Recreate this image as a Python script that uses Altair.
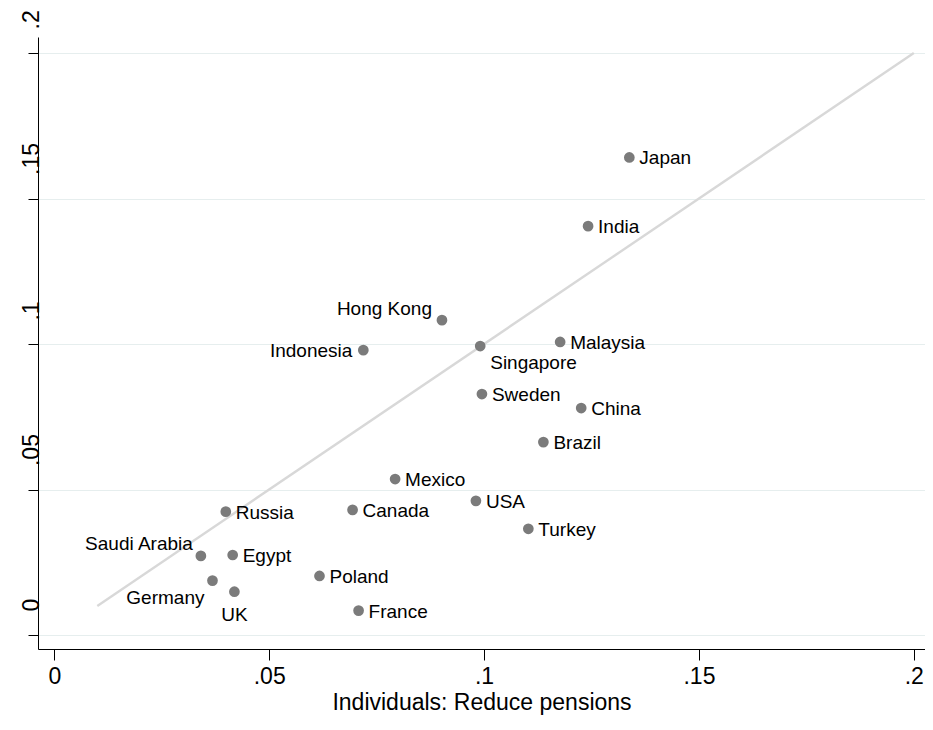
import altair as alt
import pandas as pd

# ---- data ----
countries = ["Japan", "India", "Hong Kong", "Indonesia", "Singapore", "Malaysia",
             "Sweden", "China", "Brazil", "Mexico", "USA", "Canada", "Russia",
             "Turkey", "Saudi Arabia", "Egypt", "Germany", "UK", "Poland", "France"]
reduce_pensions_individuals = [0.1338, 0.1242, 0.0902, 0.0719, 0.0991, 0.1177,
                               0.0995, 0.1226, 0.1138, 0.0793, 0.0981, 0.0694, 0.0399,
                               0.1103, 0.0341, 0.0415, 0.0368, 0.0419, 0.0617, 0.0708]
reduce_pensions_other = [0.1641, 0.1405, 0.1082, 0.0979, 0.0993, 0.1007,
                         0.0828, 0.0780, 0.0663, 0.0536, 0.0461, 0.0430, 0.0424,
                         0.0365, 0.0272, 0.0275, 0.0187, 0.0149, 0.0203, 0.0084]
diag_x = [0.01, 0.2]
diag_y = [0.01, 0.2]
tick_values = [0, 0.05, 0.1, 0.15, 0.2]
x_title = "Individuals: Reduce pensions"

# ---- label placement (style, kept apart from the data) ----
# (align, dx, dy)
label_place = {
    "Singapore": ("left", 10, 17),
    "Hong Kong": ("right", -10, -11),
    "Indonesia": ("right", -11, 1),
    "Saudi Arabia": ("right", -8, -12),
    "Germany": ("right", -8, 17),
    "UK": ("center", 0, 23),
}
default_place = ("left", 10, 1)

FONT = "Liberation Sans"

df = pd.DataFrame({"country": countries, "x": reduce_pensions_individuals,
                   "y": reduce_pensions_other})
df["place"] = [str(label_place.get(c, default_place)) for c in countries]
diag = pd.DataFrame({"x": diag_x, "y": diag_y})

xs = alt.Scale(domain=[-0.0038, 0.2026], nice=False, zero=False)
ys = alt.Scale(domain=[-0.0048, 0.2055], nice=False, zero=False)
label_expr = "datum.value == 0 ? '0' : replace(format(datum.value, '.2~f'), '0.', '.')"


def X():
    return alt.X("x:Q", scale=xs, title=x_title,
                 axis=alt.Axis(values=tick_values, labelExpr=label_expr, grid=False,
                               domainColor="black", tickColor="black", tickSize=11,
                               labelFontSize=23, labelFont=FONT, labelColor="black",
                               labelPadding=5, titleFontSize=23, titleFont=FONT,
                               titleFontWeight="normal", titleColor="black",
                               titlePadding=3, labelFlush=False))


def Y():
    return alt.Y("y:Q", scale=ys, title=None,
                 axis=alt.Axis(values=tick_values, labelExpr=label_expr, grid=True,
                               gridColor="#e6eeee", gridWidth=1,
                               domainColor="black", tickColor="black", tickSize=10,
                               labelFontSize=23, labelFont=FONT, labelColor="black",
                               labelAngle=270, labelAlign="left",
                               labelBaseline="alphabetic",
                               labelPadding=-10, labelOffset=-24, labelFlush=False))


line = alt.Chart(diag).mark_line(color="#d8d8d8", strokeWidth=2.4).encode(x=X(), y=Y())
points = alt.Chart(df).mark_circle(color="#7b7b7b", size=115, opacity=1).encode(x=X(), y=Y())

layers = [line, points]
for place in sorted(set(df["place"])):
    align, dx, dy = eval(place)
    layers.append(
        alt.Chart(df).transform_filter(alt.datum.place == place)
        .mark_text(align=align, baseline="middle", dx=dx, dy=dy, fontSize=19,
                   font=FONT, color="black")
        .encode(x=X(), y=Y(), text="country:N")
    )

chart = alt.layer(*layers).properties(
    width=887, height=612,
    autosize=alt.AutoSizeParams(type="none"),
    padding={"left": 30, "top": 29, "right": 0, "bottom": 73},
    background="white",
).configure_view(strokeWidth=0)

chart.save("out.html", embed_options={"renderer": "svg", "actions": False})
